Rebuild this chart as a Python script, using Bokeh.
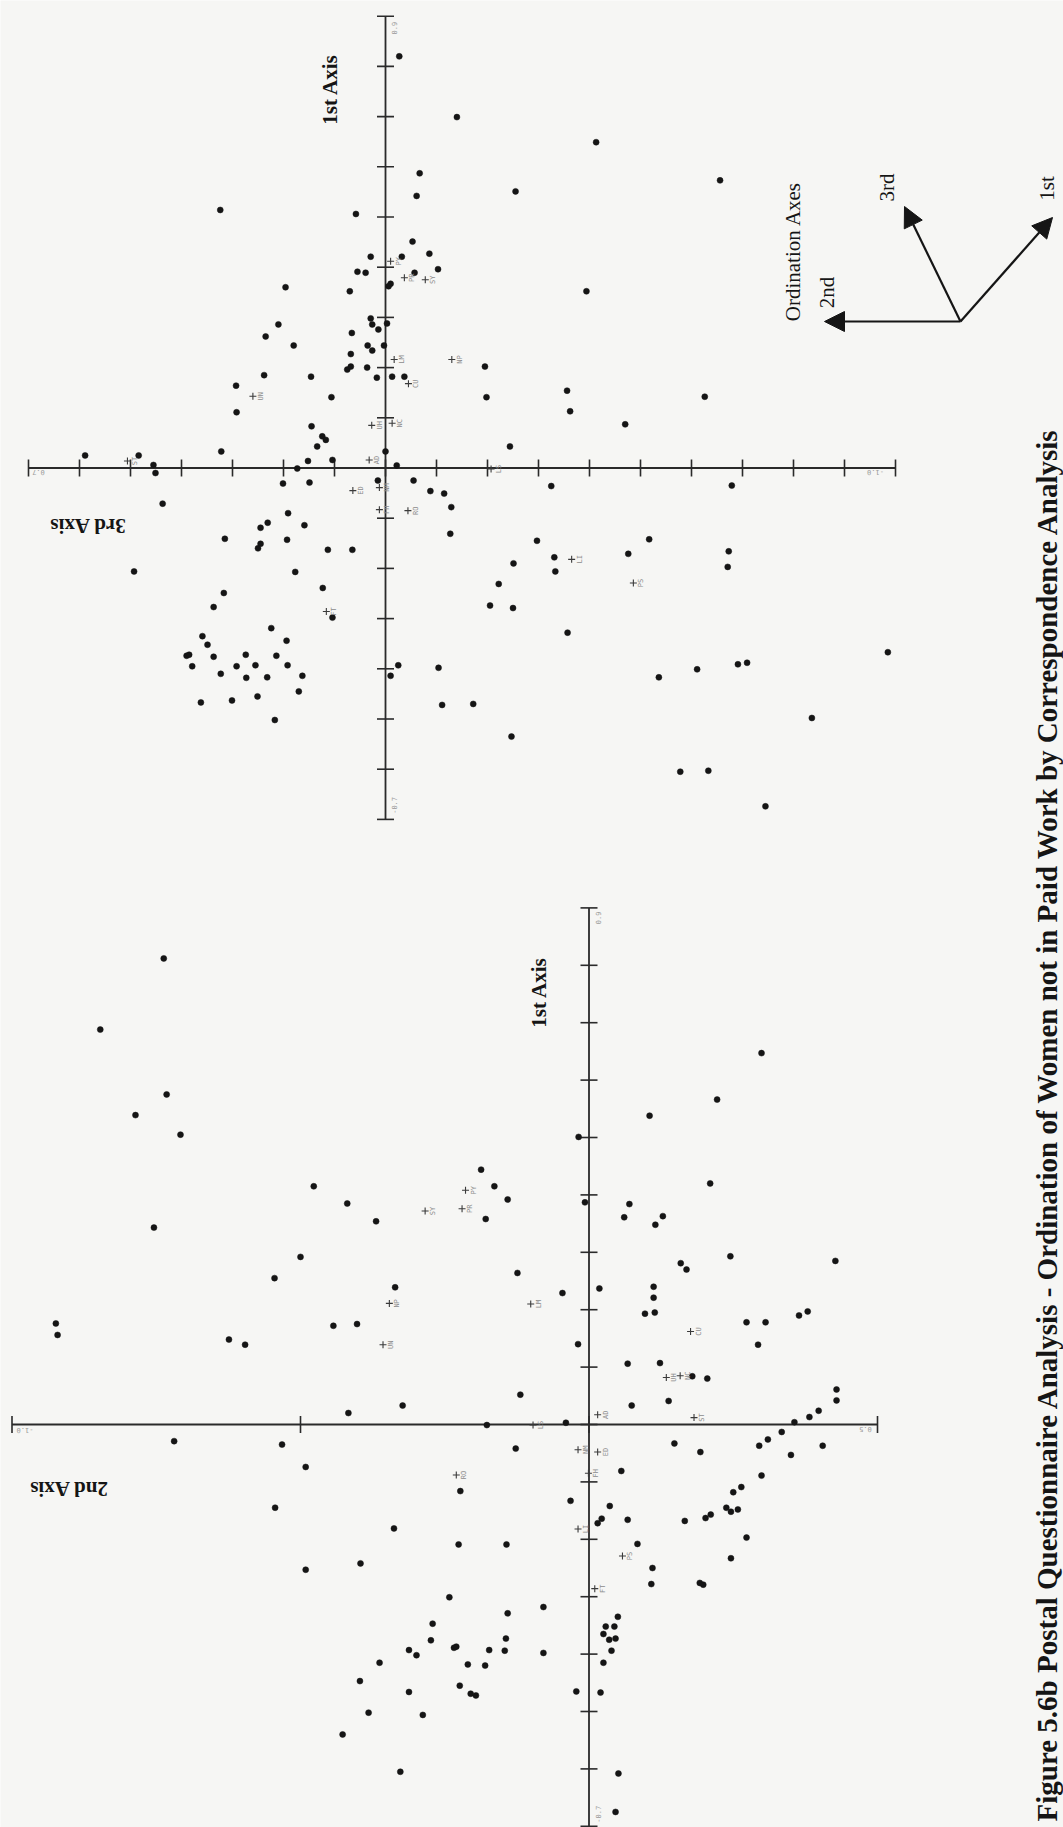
import numpy as np
from bokeh.plotting import figure
from bokeh.models import Range1d, Arrow, NormalHead
from bokeh.core.properties import value
from bokeh.embed import file_html
from bokeh.resources import INLINE

# ---------------------------------------------------------------------------
# Ordination scores (correspondence analysis) - respondents and variables
# ---------------------------------------------------------------------------

# Panel A: 3rd axis (horizontal) against 1st axis (vertical)
resp_a_ax3 = [-0.027, -0.140, -0.067, -0.255, -0.061, 0.324, 0.058, -0.053, -0.086, 0.029,
              -0.032, 0.055, 0.039, -0.057, -0.103, 0.196, -0.010, -0.006, 0.070, 0.210,
              0.029, 0.026, -0.003, 0.014, 0.235, 0.066, 0.180, 0.035, 0.026, 0.003,
              0.068, 0.238, 0.075, 0.068, 0.036, 0.017, -0.013, -0.037, -0.195, 0.293,
              0.146, 0.106, -0.198, 0.292, 0.145, 0.124, 0.117, 0.134, -0.244,
              0.000, 0.322, 0.589, 0.484, 0.455, 0.451, 0.152, 0.104, -0.022, 0.173,
              0.437, 0.201, 0.149, 0.015, -0.055, -0.088, -0.115, -0.129, 0.191, 0.231,
              0.245, 0.159, 0.315, 0.193, 0.245, 0.250, 0.113, 0.065, -0.127, 0.493,
              0.177, -0.297, -0.251, -0.222, -0.205, -0.250, 0.123, 0.317, 0.337, 0.104,
              0.224, 0.359, 0.349, 0.194, 0.390, 0.385, 0.379, 0.337, 0.274, 0.214,
              0.292, 0.255, 0.192, 0.323, 0.273, 0.232, 0.163, -0.025, -0.010, -0.104,
              0.170, 0.362, 0.301, 0.251, -0.111, -0.172, 0.217, -0.247,
              -0.362, -0.470, -0.325, -0.679, -0.517, -0.331, -0.476, -0.333, -0.673, -0.671,
              -0.357, -0.985, -0.691, -0.709, -0.611, -0.536, -0.836, -0.578, -0.633, -0.745,
              -0.413, -0.656, -0.394, -0.356, -0.626]
resp_a_ax1 = [0.820, 0.699, 0.587, 0.551, 0.542, 0.514, 0.506, 0.451, 0.427, 0.421,
              0.421, 0.391, 0.389, 0.389, 0.396, 0.360, 0.367, 0.362, 0.352, 0.286,
              0.298, 0.286, 0.288, 0.276, 0.262, 0.269, 0.244, 0.244, 0.234, 0.244,
              0.227, 0.185, 0.196, 0.202, 0.200, 0.180, 0.182, 0.182, 0.202, 0.164,
              0.182, 0.141, 0.141, 0.111, 0.083, 0.063, 0.056, 0.043, 0.043,
              0.033, 0.033, 0.025, 0.025, 0.006, -0.010, 0.014, 0.016, 0.005, -0.001,
              -0.071, -0.031, -0.029, -0.025, -0.025, -0.046, -0.051, -0.078, -0.090, -0.109,
              -0.119, -0.114, -0.141, -0.143, -0.151, -0.160, -0.163, -0.163, -0.131, -0.206,
              -0.207, -0.145, -0.190, -0.231, -0.274, -0.279, -0.239, -0.249, -0.277, -0.298,
              -0.319, -0.335, -0.352, -0.344, -0.374, -0.372, -0.395, -0.376, -0.372, -0.374,
              -0.395, -0.393, -0.393, -0.410, -0.418, -0.417, -0.414, -0.393, -0.414, -0.398,
              -0.445, -0.467, -0.463, -0.455, -0.472, -0.470, -0.502, -0.535,
              0.113, 0.087, -0.036, -0.035, -0.142, -0.178, -0.171, -0.206, -0.166, -0.197,
              -0.328, -0.367, -0.391, -0.388, -0.401, -0.417, -0.498, -0.605, -0.603, -0.674,
              0.649, 0.573, 0.352, 0.154, 0.142]

var_names = ["PY", "PR", "SY", "LM", "NP", "CU", "UN", "NC", "UH", "AD",
             "ST", "LS", "ED", "NM", "FH", "RO", "FT", "LI", "PS"]
var_a_ax3 = [-0.010, -0.037, -0.078, -0.017, -0.130, -0.045, 0.260, -0.013, 0.027, 0.032,
             0.506, -0.207, 0.064, 0.012, 0.012, -0.044, 0.116, -0.365, -0.486]
var_a_ax1 = [0.412, 0.379, 0.375, 0.216, 0.216, 0.168, 0.143, 0.089, 0.085, 0.016,
             0.014, -0.002, -0.045, -0.039, -0.083, -0.085, -0.286, -0.182, -0.229]

# Panel B: 2nd axis (horizontal) against 1st axis (vertical)
resp_b_ax2 = [-0.737, -0.847, -0.732, -0.786, -0.708, -0.187, -0.164, -0.477, -0.141, -0.419,
              -0.369, -0.179, -0.754, -0.500, -0.545, -0.124, -0.336, -0.924, -0.921, -0.443,
              -0.402, -0.624, -0.596, -0.119,
              -0.417, -0.323, -0.177, -0.719, -0.532, -0.127, -0.491, -0.223, -0.544, -0.338,
              -0.226, -0.143, -0.396, -0.491, -0.242, -0.141, -0.271, -0.274, -0.144, -0.234,
              -0.230, -0.312, -0.299, -0.173, -0.146, -0.363, -0.210, -0.180, -0.397, -0.224,
              -0.312, -0.205, -0.196, -0.382, -0.288, -0.427, -0.327,
              -0.046,
              0.299, 0.222, 0.105, -0.018, 0.210, -0.007, 0.070, 0.061, 0.128, 0.115,
              0.245, 0.427, 0.159, 0.169, 0.018, 0.112, 0.112, 0.097, 0.114, 0.364,
              0.379, 0.273, 0.306,
              -0.019, 0.293, 0.067, 0.123, 0.179, 0.205, 0.429, 0.429, 0.138, 0.074,
              0.398, 0.382, 0.356, -0.040, 0.334, 0.310, 0.148, 0.295, 0.405, 0.193,
              0.350, 0.056, 0.299, 0.264, 0.250, -0.032, 0.036, 0.238, 0.246, 0.258,
              0.211, 0.202, 0.166, 0.022, 0.015, 0.067, 0.273, 0.084, 0.246, 0.110,
              0.108, 0.192, 0.198, -0.079, 0.050, 0.029, 0.044, 0.025, 0.035, 0.046,
              0.039, -0.079, 0.025, -0.022, 0.020, 0.051, 0.046]
resp_b_ax1 = [0.812, 0.688, 0.575, 0.539, 0.505, 0.444, 0.415, 0.415, 0.392, 0.385,
              0.354, 0.358, 0.343, 0.292, 0.255, 0.264, 0.239, 0.176, 0.156, 0.172,
              0.175, 0.148, 0.139, 0.052,
              0.020, 0.033, -0.001, -0.029, -0.035, -0.042, -0.074, -0.116, -0.145, -0.181,
              -0.209, -0.209, -0.242, -0.253, -0.301, -0.329, -0.347, -0.376, -0.373, -0.389,
              -0.387, -0.393, -0.402, -0.393, -0.394, -0.415, -0.418, -0.420, -0.447, -0.455,
              -0.466, -0.469, -0.472, -0.502, -0.506, -0.540, -0.605,
              0.229,
              0.647, 0.566, 0.538, 0.501, 0.420, 0.387, 0.384, 0.361, 0.363, 0.348,
              0.293, 0.285, 0.281, 0.270, 0.237, 0.240, 0.221, 0.193, 0.195, 0.190,
              0.197, 0.178, 0.178,
              0.140, 0.139, 0.106, 0.107, 0.084, 0.080, 0.061, 0.042, 0.041, 0.033,
              0.024, 0.013, 0.004, 0.003, -0.013, -0.026, -0.033, -0.037, -0.037, -0.048,
              -0.053, -0.081, -0.089, -0.109, -0.118, -0.133, -0.142, -0.145, -0.152, -0.148,
              -0.157, -0.163, -0.168, -0.164, -0.172, -0.166, -0.197, -0.208, -0.233, -0.250,
              -0.278, -0.276, -0.279, -0.318, -0.335, -0.352, -0.352, -0.365, -0.375, -0.373,
              -0.394, -0.398, -0.415, -0.465, -0.467, -0.608, -0.675]

var_b_ax2 = [-0.214, -0.220, -0.284, -0.101, -0.346, 0.176, -0.357, 0.158, 0.134, 0.015,
             0.182, -0.097, 0.015, -0.019, -0.001, -0.230, 0.010, -0.019, 0.058]
var_b_ax1 = [0.408, 0.376, 0.372, 0.210, 0.211, 0.162, 0.139, 0.085, 0.082, 0.017,
             0.012, -0.001, -0.048, -0.044, -0.085, -0.088, -0.286, -0.182, -0.229]

# Axis tick values
ticks_ax1 = [round(v / 10, 1) for v in range(-7, 10)]          # -0.7 .. 0.9
ticks_a_ax3 = [round(v / 10, 1) for v in range(-10, 8)]        # -1.0 .. 0.7
ticks_b_ax2 = [-1.0, -0.5, 0.0, 0.5]

caption = ("Figure 5.6b Postal Questionnaire Analysis - Ordination of Women "
           "not in Paid Work by Correspondence Analysis")

# ---------------------------------------------------------------------------
# Page figure (page pixel coordinates, y downwards) with one pair of
# extra ranges per ordination panel
# ---------------------------------------------------------------------------
PAGE_W, PAGE_H = 1063, 1827
PAPER = "#f6f6f4"
INK = "#151515"
AXIS_INK = "#2a2a2a"
FAINT = "#9a9a9a"
SERIF = value("Liberation Serif")
MONO = value("DejaVu Sans Mono")

p = figure(width=PAGE_W, height=PAGE_H,
           x_range=Range1d(0, PAGE_W), y_range=Range1d(PAGE_H, 0),
           output_backend="svg", toolbar_location=None,
           x_axis_type=None, y_axis_type=None,
           min_border=0, min_border_left=0, min_border_right=0,
           min_border_top=0, min_border_bottom=0,
           background_fill_color=PAPER, border_fill_color=PAPER,
           outline_line_color=None)

# panel placement on the page: origin (px) and pixels per unit score;
# end-label offsets are screen offsets (px) for the low/high end of each axis
PANELS = {
    "a": dict(origin=(385.0, 467.5), scale=(510.0, 502.0), flip_x=True,
              h_off=[(-20, 5), (10, 5)], v_off=[(8, -14), (8, 12)]),
    "b": dict(origin=(588.5, 1424.0), scale=(577.0, 574.0), flip_x=False,
              h_off=[(13, 6), (-12, 5)], v_off=[(9, -12), (9, 10)]),
}

xr, yr = {}, {}
for name, cfg in PANELS.items():
    ox, oy = cfg["origin"]
    sx, sy = cfg["scale"]
    if cfg["flip_x"]:
        xr[name] = Range1d(start=ox / sx, end=(ox - PAGE_W) / sx)
    else:
        xr[name] = Range1d(start=-ox / sx, end=(PAGE_W - ox) / sx)
    yr[name] = Range1d(start=(oy - PAGE_H) / sy, end=oy / sy)
p.extra_x_ranges = xr
p.extra_y_ranges = yr


def draw_panel(name, h_ticks, v_ticks, rx, ry, vx, vy):
    kw = dict(x_range_name=name, y_range_name=name)
    cfg = PANELS[name]
    # crossing axes
    p.segment(x0=[h_ticks[0], 0], y0=[0, v_ticks[0]],
              x1=[h_ticks[-1], 0], y1=[0, v_ticks[-1]],
              line_color=AXIS_INK, line_width=1.8, **kw)
    p.scatter(x=h_ticks, y=[0] * len(h_ticks), marker="dash", angle=np.pi / 2,
              size=17, line_color=AXIS_INK, line_width=1.6, **kw)
    p.scatter(x=[0] * len(v_ticks), y=v_ticks, marker="dash", angle=0,
              size=17, line_color=AXIS_INK, line_width=1.6, **kw)
    # respondents
    p.scatter(x=rx, y=ry, size=6, fill_color=INK, line_color=INK, line_width=0.5, **kw)
    # variables
    p.scatter(x=vx, y=vy, marker="cross", size=7, line_color="#3a3a3a",
              line_width=1.1, **kw)
    p.text(x=vx, y=vy, text=var_names, angle=np.pi / 2, x_offset=8,
           text_align="center", text_baseline="middle",
           text_font=MONO, text_font_size="7px", text_color="#8c8c8c", **kw)
    # end-of-axis values
    for val, (dx, dy) in zip([h_ticks[0], h_ticks[-1]], cfg["h_off"]):
        p.text(x=[val], y=[0], text=[f"{val:.1f}"], angle=np.pi,
               x_offset=dx, y_offset=dy, text_align="center", text_baseline="middle",
               text_font=MONO, text_font_size="7px", text_color=FAINT, **kw)
    for val, (dx, dy) in zip([v_ticks[0], v_ticks[-1]], cfg["v_off"]):
        p.text(x=[0], y=[val], text=[f"{val:.1f}"], angle=np.pi / 2,
               x_offset=dx, y_offset=dy, text_align="center", text_baseline="middle",
               text_font=MONO, text_font_size="7px", text_color=FAINT, **kw)


draw_panel("a", ticks_a_ax3, ticks_ax1, resp_a_ax3, resp_a_ax1, var_a_ax3, var_a_ax1)
draw_panel("b", ticks_b_ax2, ticks_ax1, resp_b_ax2, resp_b_ax1, var_b_ax2, var_b_ax1)

# axis titles
title_kw = dict(text_font=SERIF, text_font_style="bold", text_font_size="21px",
                text_color=INK, text_align="center", text_baseline="middle")
p.text(x=[329, 538], y=[89, 992], text=["1st Axis", "1st Axis"], angle=np.pi / 2, **title_kw)
p.text(x=[87, 68], y=[525, 1488], text=["3rd Axis", "2nd Axis"], angle=np.pi, **title_kw)

# key to the ordination axes
key_origin = (960, 321)
for tip in [(824, 321), (904, 206), (1052, 217)]:
    p.add_layout(Arrow(end=NormalHead(size=20, fill_color=INK, line_color=INK, line_width=1),
                       x_start=key_origin[0], y_start=key_origin[1],
                       x_end=tip[0], y_end=tip[1],
                       line_color=INK, line_width=2.2))
key_kw = dict(text_font=SERIF, text_font_size="21px", text_color=INK,
              text_align="center", text_baseline="middle", angle=np.pi / 2)
p.text(x=[792], y=[251], text=["Ordination Axes"], **key_kw)
p.text(x=[826, 886, 1046], y=[292, 187, 188], text=["2nd", "3rd", "1st"], **key_kw)

# caption
p.text(x=[1046], y=[1821], text=[caption], angle=np.pi / 2,
       text_font=SERIF, text_font_style="bold", text_font_size="29px",
       text_color=INK, text_align="left", text_baseline="middle")

open("out.html", "w").write(file_html(p, INLINE))
